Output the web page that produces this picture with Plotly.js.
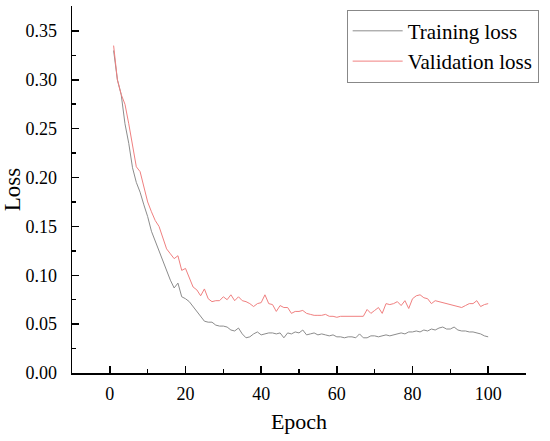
<!DOCTYPE html>
<html>
<head>
<meta charset="utf-8">
<script src="https://cdn.plot.ly/plotly-3.0.1.min.js"></script>
<style>html,body{margin:0;padding:0;background:#fff;}#chart{width:550px;height:441px;}</style>
</head>
<body>
<div id="chart"></div>
<script>
const epochs = Array.from({length: 100}, (_, i) => i + 1);
const trainingLoss = [
0.330,0.300,0.285,0.255,0.235,0.210,0.195,0.185,0.172,0.160,
0.145,0.135,0.125,0.113,0.105,0.095,0.087,0.092,0.078,0.076,
0.073,0.068,0.063,0.057,0.053,0.052,0.052,0.049,0.048,0.048,
0.047,0.044,0.043,0.046,0.040,0.036,0.037,0.040,0.042,0.039,
0.040,0.041,0.041,0.040,0.041,0.036,0.041,0.040,0.042,0.041,
0.044,0.039,0.040,0.041,0.039,0.040,0.039,0.038,0.039,0.037,
0.037,0.036,0.037,0.037,0.036,0.040,0.036,0.036,0.038,0.038,
0.037,0.038,0.039,0.038,0.039,0.040,0.041,0.040,0.042,0.042,
0.043,0.042,0.044,0.043,0.045,0.044,0.046,0.047,0.045,0.045,
0.047,0.044,0.043,0.043,0.042,0.042,0.041,0.040,0.038,0.037
];
const validationLoss = [
0.335,0.300,0.285,0.275,0.255,0.235,0.211,0.206,0.190,0.175,
0.165,0.156,0.150,0.138,0.127,0.122,0.117,0.120,0.105,0.107,
0.098,0.088,0.085,0.079,0.086,0.076,0.073,0.074,0.074,0.078,
0.075,0.080,0.074,0.078,0.074,0.073,0.071,0.068,0.071,0.072,
0.080,0.071,0.070,0.063,0.069,0.067,0.067,0.061,0.063,0.063,
0.064,0.061,0.060,0.059,0.059,0.059,0.060,0.058,0.058,0.057,
0.058,0.058,0.058,0.058,0.058,0.058,0.058,0.065,0.061,0.064,
0.067,0.061,0.071,0.070,0.071,0.073,0.069,0.074,0.066,0.076,
0.079,0.080,0.077,0.076,0.071,0.074,0.073,0.072,0.071,0.070,
0.069,0.068,0.067,0.069,0.071,0.071,0.074,0.068,0.070,0.071
];
const seriesNames = ['Training loss', 'Validation loss'];
const xTitle = 'Epoch';
const yTitle = 'Loss';

const font = 'Liberation Serif';
const traces = [
  {x: epochs, y: trainingLoss, name: seriesNames[0], type: 'scatter', mode: 'lines',
   line: {color: '#8c8c8c', width: 1}},
  {x: epochs, y: validationLoss, name: seriesNames[1], type: 'scatter', mode: 'lines',
   line: {color: '#f08080', width: 1}}
];
function axisCommon() {
  return {
    showgrid: false, zeroline: false, showline: true, linecolor: '#000', linewidth: 1.5,
    ticks: 'inside', ticklen: 7, tickwidth: 1.5, tickcolor: '#000',
    tickfont: {family: font, size: 18, color: '#000'},
    mirror: false
  };
}
const layout = {
  width: 550, height: 441,
  margin: {l: 72, r: 24, t: 6, b: 68},
  paper_bgcolor: '#fff', plot_bgcolor: '#fff',
  font: {family: font, color: '#000'},
  showlegend: true,
  legend: {x: 0.605, y: 0.99, xanchor: 'left', yanchor: 'top',
    bordercolor: '#888', borderwidth: 1, bgcolor: '#fff', itemwidth: 50,
    font: {family: font, size: 21, color: '#000'}, tracegroupgap: 0},
  xaxis: Object.assign(axisCommon(), {
    range: [-10, 110], tick0: 0, dtick: 20, ticklabelstandoff: 4,
    minor: {ticks: 'inside', ticklen: 4, tickwidth: 1.5, tickcolor: '#000', dtick: 10, tick0: 0, showgrid: false},
    title: {text: xTitle, font: {family: font, size: 22, color: '#000'}, standoff: 10}
  }),
  yaxis: Object.assign(axisCommon(), {
    range: [0, 0.3755], tick0: 0, dtick: 0.05, tickformat: '.2f', ticklabelstandoff: 10,
    minor: {ticks: 'inside', ticklen: 4, tickwidth: 1.5, tickcolor: '#000', dtick: 0.025, tick0: 0, showgrid: false},
    title: {text: yTitle, font: {family: font, size: 23, color: '#000'}, standoff: 8}
  })
};
Plotly.newPlot('chart', traces, layout, {displayModeBar: false, staticPlot: true});
</script>
</body>
</html>
